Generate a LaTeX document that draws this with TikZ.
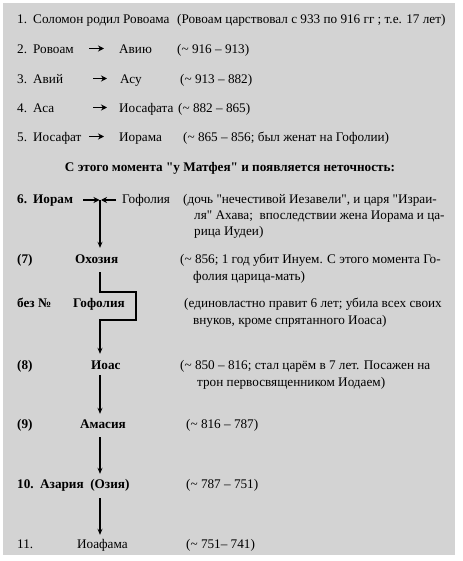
\documentclass[tikz,border=0pt]{standalone}
\usepackage{fontspec}
\setmainfont{Liberation Serif}
\usetikzlibrary{arrows.meta}
\definecolor{bg}{RGB}{211,211,211}
\newcommand{\qq}{\textquotedbl}
\begin{document}
\begin{tikzpicture}[x=1bp,y=-1bp,
  every node/.style={font=\fontsize{13.2bp}{15bp}\selectfont},
  t/.style={anchor=base west, inner sep=0pt},
  bt/.style={t, font=\fontsize{13.2bp}{15bp}\selectfont\bfseries},
  nm/.style={t, text height=8.5bp, text depth=2.5bp},
  bnm/.style={bt, text height=8.5bp, text depth=2.5bp},
  arr/.style={-{Stealth[length=6bp,width=5bp]}, line width=1.1bp},
  harr/.style={-{Stealth[length=6bp,width=6bp]}, line width=1.4bp}]
\useasboundingbox (0,0) rectangle (463,561);
\fill[bg] (3,3) rectangle (455,555);
% line 1
\node[t] (n1) at (17,23.5) {1.};
\node[t] (sol) at (33,23.5) {Соломон родил Ровоама};
\node[t] (d1) at (177,23.5) {(Ровоам царствовал с 933 по 916 гг ; т.е. 17 лет)};
% line 2
\node[t] (n2) at (17,53.5) {2.};
\node[nm] (rov) at (33,53.5) {Ровоам};
\node[nm] (aviu) at (119,53.5) {Авию};
\node[t] (d2) at (177,53.5) {(\textasciitilde{} 916 – 913)};
\coordinate (a2a) at (89,48.5);
\coordinate (a2b) at (104,48.5);
\draw[harr] (a2a) -- (a2b);
% line 3
\node[t] (n3) at (17,83.5) {3.};
\node[nm] (aviy) at (33,83.5) {Авий};
\node[nm] (asu) at (120,83.5) {Асу};
\node[t] (d3) at (180,83.5) {(\textasciitilde{} 913 – 882)};
\coordinate (a3a) at (93,78.5);
\coordinate (a3b) at (107,78.5);
\draw[harr] (a3a) -- (a3b);
% line 4
\node[t] (n4) at (17,112.5) {4.};
\node[nm] (asa) at (33,112.5) {Аса};
\node[nm] (iosafata) at (119,112.5) {Иосафата};
\node[t] (d4) at (178,112.5) {(\textasciitilde{} 882 – 865)};
\coordinate (a4a) at (93,107.5);
\coordinate (a4b) at (107,107.5);
\draw[harr] (a4a) -- (a4b);
% line 5
\node[t] (n5) at (17,141.5) {5.};
\node[nm] (iosafat) at (33,141.5) {Иосафат};
\node[nm] (iorama) at (119,141.5) {Иорама};
\node[t] (d5) at (183,141.5) {(\textasciitilde{} 865 – 856; был женат на Гофолии)};
\coordinate (a5a) at (89,136.5);
\coordinate (a5b) at (104,136.5);
\draw[harr] (a5a) -- (a5b);
% heading
\node[bt, anchor=base] (head) at (230,171.5) {С этого момента \qq у Матфея\qq{} и появляется неточность:};
% line 6
\node[bt] (n6) at (17,203.5) {6.};
\node[bnm] (ioram) at (33,203.5) {Иорам};
\node[nm] (gof1) at (122,203.5) {Гофолия};
\node[t] (d6a) at (183,203.5) {(дочь \qq нечестивой Иезавели\qq, и царя \qq Израи-};
\node[t] (d6b) at (194,219.5) {ля\qq{} Ахава;\ \ впоследствии жена Иорама и ца-};
\node[t] (d6c) at (194,235.5) {рица Иудеи)};
\coordinate (j6) at (100,200);
\draw[harr, shorten <=10bp] (ioram.east |- j6) -- ([xshift=-0.5bp]j6);
\draw[harr, shorten <=6bp] (gof1.west |- j6) -- ([xshift=1bp]j6);
% line 7
\node[bt] (n7) at (17,263.5) {(7)};
\node[bnm] (ohoz) at (75,263.5) {Охозия};
\node[t] (d7a) at (180,263.5) {(\textasciitilde{} 856; 1 год убит Инуем. С этого момента Го-};
\node[t] (d7b) at (193,280) {фолия царица-мать)};
\draw[arr, shorten >=7bp] (j6) -- (ohoz.north -| j6);
% bez
\node[bt] (nb) at (17,307.5) {без №};
\node[bnm] (gof2) at (73,307.5) {Гофолия};
\node[t] (dba) at (184,307.5) {(единовластно правит 6 лет; убила всех своих};
\node[t] (dbb) at (193,324) {внуков, кроме спрятанного Иоаса)};
% line 8
\node[bt] (n8) at (17,369.5) {(8)};
\node[bnm] (ioas) at (91,369.5) {Иоас};
\node[t] (d8a) at (180,369.5) {(\textasciitilde{} 850 – 816; стал царём в 7 лет. Посажен на};
\node[t] (d8b) at (197,386) {трон первосвященником Иодаем)};
\coordinate (b1) at (136,292);
\coordinate (b2) at (136,320);
\draw[arr, shorten <=6bp, shorten >=7bp] (ohoz.south -| j6) -- (j6 |- b1) -- (b1) -- (b2) -- (j6 |- b2) -- (ioas.north -| j6);
% line 9
\node[bt] (n9) at (17,428.5) {(9)};
\node[bnm] (amas) at (80,428.5) {Амасия};
\node[t] (d9) at (186,428.5) {(\textasciitilde{} 816 – 787)};
\draw[arr, shorten <=3bp, shorten >=6bp] (ioas.south -| j6) -- (amas.north -| j6);
% line 10
\node[bt] (n10) at (17,488.5) {10.};
\node[bnm] (azar) at (40,488.5) {Азария\ \ (Озия)};
\node[t] (d10) at (186,488.5) {(\textasciitilde{} 787 – 751)};
\draw[arr, shorten <=6bp, shorten >=6bp] (amas.south -| j6) -- (azar.north -| j6);
% line 11
\node[t] (n11) at (17,548.5) {11.};
\node[nm] (ioaf) at (77,548.5) {Иоафама};
\node[t] (d11) at (186,548.5) {(\textasciitilde{} 751– 741)};
\draw[arr, shorten <=7bp, shorten >=5bp] (azar.south -| j6) -- (ioaf.north -| j6);
\end{tikzpicture}
\end{document}
